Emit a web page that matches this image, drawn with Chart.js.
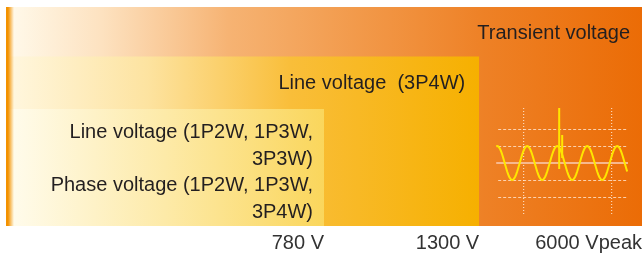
<!DOCTYPE html>
<html>
<head>
<meta charset="utf-8">
<script src="https://cdn.jsdelivr.net/npm/chart.js@4"></script>
<style>
  html, body { margin: 0; padding: 0; background: #fff; }
  #wrap { width: 642px; height: 255px; }
</style>
</head>
<body>
<div id="wrap"><canvas id="my-chart"></canvas></div>
<script>
'use strict';
// data
let voltages = [780, 1300, 6000]
let tickLabels = ['780 V', '1300 V', '6000 Vpeak']
let bandLabels = [
  ['Line voltage (1P2W, 1P3W,', '3P3W)', 'Phase voltage (1P2W, 1P3W,', '3P4W)'],
  ['Line voltage  (3P4W)'],
  ['Transient voltage']
]

// layout / style
let bandHeights = [0.534, 0.774, 1]      // top of each band, share of plot height
let tickFractions = [0.5, 0.744, 1]      // where each voltage sits along the axis
let labelGaps = [11, 14, 12]
let labelTopOffsets = [29, 33, 32]
let lineStep = 26.5
let bandColors = [
  [[0.03, '#fffbea'], [0.5, '#fdeaa8'], [1, '#fad65c']],
  [[0.02, '#fff6dc'], [0.3, '#fde3a0'], [0.6, '#f9be3a'], [1, '#f6b000']],
  [[0.013, '#fff8e8'], [0.15, '#fde2c0'], [0.35, '#f6b373'], [0.55, '#f29a4b'], [0.75, '#ee8126'], [1, '#eb6c06']]
]

// x scale with hand-set spacing between the voltage steps
class PiecewiseScale extends Chart.LinearScale {
  getPixelForValue(value) {
    let vals = [0].concat(voltages)
    let fr = [0].concat(tickFractions)
    let f = 1
    for (let i = 1; i < vals.length; i++) {
      if (value <= vals[i]) {
        f = fr[i - 1] + (value - vals[i - 1]) / (vals[i] - vals[i - 1]) * (fr[i] - fr[i - 1])
        break
      }
    }
    return this.getPixelForDecimal(f)
  }
  getValueForPixel(pixel) {
    let d = this.getDecimalForPixel(pixel)
    let vals = [0].concat(voltages)
    let fr = [0].concat(tickFractions)
    for (let i = 1; i < vals.length; i++) {
      if (d <= fr[i]) return vals[i - 1] + (d - fr[i - 1]) / (fr[i] - fr[i - 1]) * (vals[i] - vals[i - 1])
    }
    return vals[vals.length - 1]
  }
}
PiecewiseScale.id = 'piecewise'
PiecewiseScale.defaults = Chart.LinearScale.defaults
Chart.register(PiecewiseScale)

// gradient with the orange stripe on the left edge
function bandFill(i) {
  return function (context) {
    let chart = context.chart
    if (!chart.chartArea) return 'transparent'
    let xs = chart.scales.x
    let x0 = xs.getPixelForValue(0)
    let x1 = xs.getPixelForValue(voltages[i])
    let w = x1 - x0
    let g = chart.ctx.createLinearGradient(x0, 0, x1, 0)
    g.addColorStop(0, '#f39200')
    g.addColorStop(2 / w, '#f39200')
    g.addColorStop(8 / w, bandColors[i][0][1])
    bandColors[i].forEach(function (s) {
      if (s[0] > 8 / w) g.addColorStop(s[0], s[1])
    })
    return g
  }
}

let datasets = []
for (let i = 0; i < voltages.length; i++) {
  datasets.push({
    label: bandLabels[i].join(' '),
    data: [{ x: 0, y: bandHeights[i] }, { x: voltages[i], y: bandHeights[i] }],
    fill: 'origin',
    backgroundColor: bandFill(i),
    borderColor: 'transparent',
    borderWidth: 0,
    pointRadius: 0,
    pointHoverRadius: 0,
    tension: 0
  })
}

// text inside the bands
let bandText = {
  id: 'bandText',
  afterDatasetsDraw(chart) {
    let ctx = chart.ctx
    let xs = chart.scales.x
    let ys = chart.scales.y
    ctx.save()
    ctx.font = '20px "Liberation Sans", Arial, sans-serif'
    ctx.fillStyle = '#231f20'
    ctx.textAlign = 'right'
    ctx.textBaseline = 'alphabetic'
    for (let i = 0; i < bandLabels.length; i++) {
      let right = xs.getPixelForValue(voltages[i]) - labelGaps[i]
      let top = ys.getPixelForValue(bandHeights[i])
      bandLabels[i].forEach(function (line, j) {
        ctx.fillText(line, right, top + labelTopOffsets[i] + j * lineStep)
      })
    }
    ctx.restore()
  }
}

// little scope picture of a transient spike
let scopeIcon = {
  id: 'scopeIcon',
  afterDatasetsDraw(chart) {
    let ctx = chart.ctx
    let xs = chart.scales.x
    let left = xs.getPixelForValue(voltages[1]) + 17
    let right = xs.getPixelForValue(voltages[2]) - 14
    let cy = chart.chartArea.bottom - 63
    ctx.save()
    // dashed horizontals
    ctx.lineWidth = 1
    ctx.strokeStyle = 'rgba(255,225,200,0.85)'
    ctx.setLineDash([3, 2])
    ;[-34, -17, 17, 34].forEach(function (d) {
      ctx.beginPath()
      ctx.moveTo(left + 2, cy + d + 0.5)
      ctx.lineTo(right, cy + d + 0.5)
      ctx.stroke()
    })
    // dotted verticals
    ctx.strokeStyle = 'rgba(255,240,225,0.95)'
    ctx.setLineDash([1, 2])
    ;[left + 27, left + 115].forEach(function (x) {
      ctx.beginPath()
      ctx.moveTo(x + 0.5, cy - 55)
      ctx.lineTo(x + 0.5, cy + 52)
      ctx.stroke()
    })
    // centre line
    ctx.setLineDash([])
    ctx.strokeStyle = '#f7b88e'
    ctx.lineWidth = 2
    ctx.beginPath()
    ctx.moveTo(left, cy)
    ctx.lineTo(right, cy)
    ctx.stroke()
    // wave
    ctx.strokeStyle = '#ffe600'
    ctx.lineWidth = 2
    ctx.beginPath()
    for (let x = left; x <= right; x++) {
      let y = cy - 17 * Math.cos(2 * Math.PI * (x - left - 1) / 30)
      if (x === left) ctx.moveTo(x, y)
      else ctx.lineTo(x, y)
    }
    ctx.stroke()
    // spike
    ctx.beginPath()
    ctx.moveTo(left + 63, cy - 55)
    ctx.lineTo(left + 63, cy + 6)
    ctx.moveTo(left + 66, cy - 28)
    ctx.lineTo(left + 66, cy - 5)
    ctx.stroke()
    ctx.restore()
  }
}

const ctx = document.getElementById('my-chart').getContext('2d')
const myChart = new Chart(ctx, {
  type: 'line',
  data: { datasets: datasets },
  options: {
    responsive: true,
    maintainAspectRatio: false,
    animation: false,
    events: [],
    layout: { padding: { left: 6, top: 7, right: 0, bottom: 0 } },
    plugins: { legend: { display: false }, tooltip: { enabled: false } },
    scales: {
      x: {
        type: 'piecewise',
        min: 0,
        max: voltages[voltages.length - 1],
        border: { display: false },
        grid: { display: false, drawTicks: false },
        afterBuildTicks: function (s) {
          s.ticks = voltages.map(function (v) { return { value: v } })
        },
        afterFit: function (s) {
          s.height = 29
          s.paddingLeft = 0
          s.paddingRight = 0
        },
        ticks: {
          autoSkip: false,
          maxRotation: 0,
          align: 'end',
          padding: 5,
          color: '#333',
          font: { family: '"Liberation Sans", Arial, sans-serif', size: 20 },
          callback: function (val, i) { return tickLabels[i] }
        }
      },
      y: { display: false, min: 0, max: 1 }
    }
  },
  plugins: [bandText, scopeIcon]
});
</script>
</body>
</html>
